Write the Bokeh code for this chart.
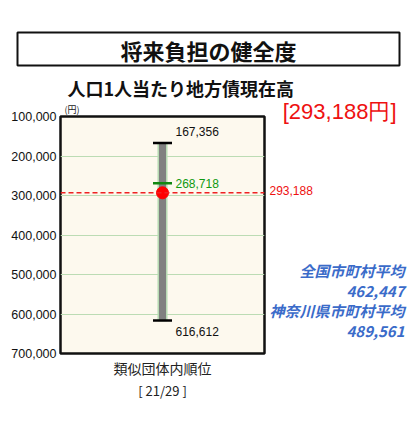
from bokeh.plotting import figure
from bokeh.layouts import column, row
from bokeh.models import (ColumnDataSource, FactorRange, Range1d, FixedTicker,
                          NumeralTickFormatter, Span)
from bokeh.core.properties import value
from bokeh.embed import file_html
from bokeh.resources import INLINE

# data
category = ["類似団体内順位"]
rank_text = "[ 21/29 ]"
max_val = [167356]      # top of range (best)
min_val = [616612]      # bottom of range (worst)
median_val = [268718]   # green mark
own_val = [293188]      # red dot / dashed line
national_avg = 462447
pref_avg = 489561
y_ticks = [100000, 200000, 300000, 400000, 500000, 600000, 700000]

JP = value("Noto Sans CJK JP")
NUM = value("Liberation Sans")

# page layout (pixels)
W, H = 416, 425
HEAD_H = 100                      # header strip height
FRAME_L, FRAME_R = 60, 264        # chart frame, page x
FRAME_T, FRAME_B = 113, 353       # chart frame, page y
MAIN_W = 266

# ---- header: title box and subtitle
head = figure(width=W, height=HEAD_H, x_range=Range1d(0, W), y_range=Range1d(HEAD_H, 0),
              x_axis_location=None, y_axis_location=None, min_border=0,
              output_backend="svg", toolbar_location=None)
head.frame_align = False
head.outline_line_color = None
head.grid.grid_line_color = None
head.quad(left=[17], right=[399], top=[32], bottom=[65], fill_color="white",
          line_color="#111111", line_width=2)
head.text(x=[208], y=[49], text=["将来負担の健全度"], text_font=JP, text_font_size="22px",
          text_font_style="bold", text_align="center", text_baseline="middle",
          text_color="#111111")
head.text(x=[67], y=[87], text=["人口1人当たり地方債現在高"], text_font=JP,
          text_font_size="18px", text_font_style="bold", text_baseline="middle",
          text_color="#111111")

# ---- main chart
src = ColumnDataSource(dict(cat=category, top=max_val, bottom=min_val,
                            med=median_val, own=own_val,
                            top_txt=[f"{v:,}" for v in max_val],
                            bot_txt=[f"{v:,}" for v in min_val],
                            med_txt=[f"{v:,}" for v in median_val]))

p = figure(x_range=FactorRange(*category, range_padding=0),
           y_range=Range1d(y_ticks[-1], y_ticks[0]),
           width=MAIN_W, height=H - HEAD_H, title="(円)",
           output_backend="svg", toolbar_location=None,
           min_border_left=FRAME_L, min_border_right=MAIN_W - FRAME_R,
           min_border_top=FRAME_T - HEAD_H, min_border_bottom=H - FRAME_B)
p.frame_align = False

p.title.text_font = "Noto Sans CJK JP"
p.title.text_font_size = "9px"
p.title.text_font_style = "normal"
p.title.text_color = "#222222"
p.title.align = "left"
p.title.offset = 4
p.title.standoff = 1

p.background_fill_color = "#fdf9ee"
p.border_fill_color = "white"
p.outline_line_color = "#111111"
p.outline_line_width = 2.5
p.xgrid.grid_line_color = None
p.ygrid.grid_line_color = "#bcdcb4"
p.ygrid.ticker = FixedTicker(ticks=y_ticks)

p.yaxis.ticker = FixedTicker(ticks=y_ticks)
p.yaxis.formatter = NumeralTickFormatter(format="0,0")
p.yaxis.axis_line_color = None
p.yaxis.major_tick_out = 0
p.yaxis.major_tick_in = 0
p.yaxis.minor_tick_line_color = None
p.yaxis.major_label_standoff = 4
p.yaxis.major_label_text_font = "Liberation Sans"
p.yaxis.major_label_text_font_size = "12.5px"
p.yaxis.major_label_text_color = "#111111"

p.xaxis.axis_line_color = None
p.xaxis.major_tick_out = 0
p.xaxis.major_tick_in = 0
p.xaxis.major_label_standoff = 4
p.xaxis.major_label_text_font = "Noto Sans CJK JP"
p.xaxis.major_label_text_font_size = "14px"
p.xaxis.major_label_text_color = "#222222"
p.xaxis.axis_label = rank_text
p.xaxis.axis_label_standoff = 0
p.xaxis.axis_label_text_font = "Noto Sans CJK JP"
p.xaxis.axis_label_text_font_style = "normal"
p.xaxis.axis_label_text_font_size = "13px"
p.xaxis.axis_label_text_color = "#222222"

# own value reference line
p.add_layout(Span(location=own_val[0], dimension="width", line_color="#ee2222",
                  line_width=1.5, line_dash="5 3"))

# range bar with caps
p.vbar(x="cat", top="top", bottom="bottom", width=0.042, source=src,
       fill_color="#808080", line_color="#b8dcb4", line_width=1.5)
p.scatter(x="cat", y="top", source=src, marker="dash", size=19,
          line_color="black", line_width=2.5)
p.scatter(x="cat", y="bottom", source=src, marker="dash", size=19,
          line_color="black", line_width=2.5)
p.scatter(x="cat", y="med", source=src, marker="dash", size=19,
          line_color="#118811", line_width=2.5)
p.scatter(x="cat", y="own", source=src, marker="circle", size=12,
          fill_color="red", line_color="red")

p.text(x="cat", y="top", text="top_txt", source=src, x_offset=13, y_offset=-12,
       text_font=NUM, text_font_size="12px", text_baseline="middle", text_color="#111111")
p.text(x="cat", y="med", text="med_txt", source=src, x_offset=13, y_offset=0,
       text_font=NUM, text_font_size="12px", text_baseline="middle", text_color="#119911")
p.text(x="cat", y="bottom", text="bot_txt", source=src, x_offset=13, y_offset=11,
       text_font=NUM, text_font_size="12px", text_baseline="middle", text_color="#111111")

# ---- right strip: own value, reference averages
# value range aligned with the main chart's y scale
per_px = (y_ticks[-1] - y_ticks[0]) / (FRAME_B - FRAME_T)
val_top = y_ticks[0] - (FRAME_T - HEAD_H) * per_px
val_bot = y_ticks[-1] + (H - FRAME_B) * per_px

side = figure(width=W - MAIN_W, height=H - HEAD_H,
              x_range=Range1d(MAIN_W, W), y_range=Range1d(H, HEAD_H),
              x_axis_location=None, y_axis_location=None, min_border=0,
              output_backend="svg", toolbar_location=None)
side.frame_align = False
side.extra_y_ranges = {"val": Range1d(val_bot, val_top)}
side.outline_line_color = None
side.grid.grid_line_color = None

side.text(x=[269], y=own_val, y_range_name="val", text=[f"{v:,}" for v in own_val],
          text_font=NUM, text_font_size="12px", text_baseline="middle",
          text_color="#ee1111")
side.text(x=[396], y=[111], text=[f"[{own_val[0]:,}円]"], text_font=NUM,
          text_font_size="22px", text_align="right", text_baseline="middle",
          text_color="#ee1111")
side.text(x=[404] * 4, y=[270, 290, 310, 330],
          text=["全国市町村平均", f"{national_avg:,}", "神奈川県市町村平均", f"{pref_avg:,}"],
          text_font=JP, text_font_size="15px", text_font_style="bold italic",
          text_align="right", text_baseline="middle", text_color="#3a6bc9")

layout = column(head, row(p, side))
open("out.html", "w").write(file_html(layout, INLINE))
